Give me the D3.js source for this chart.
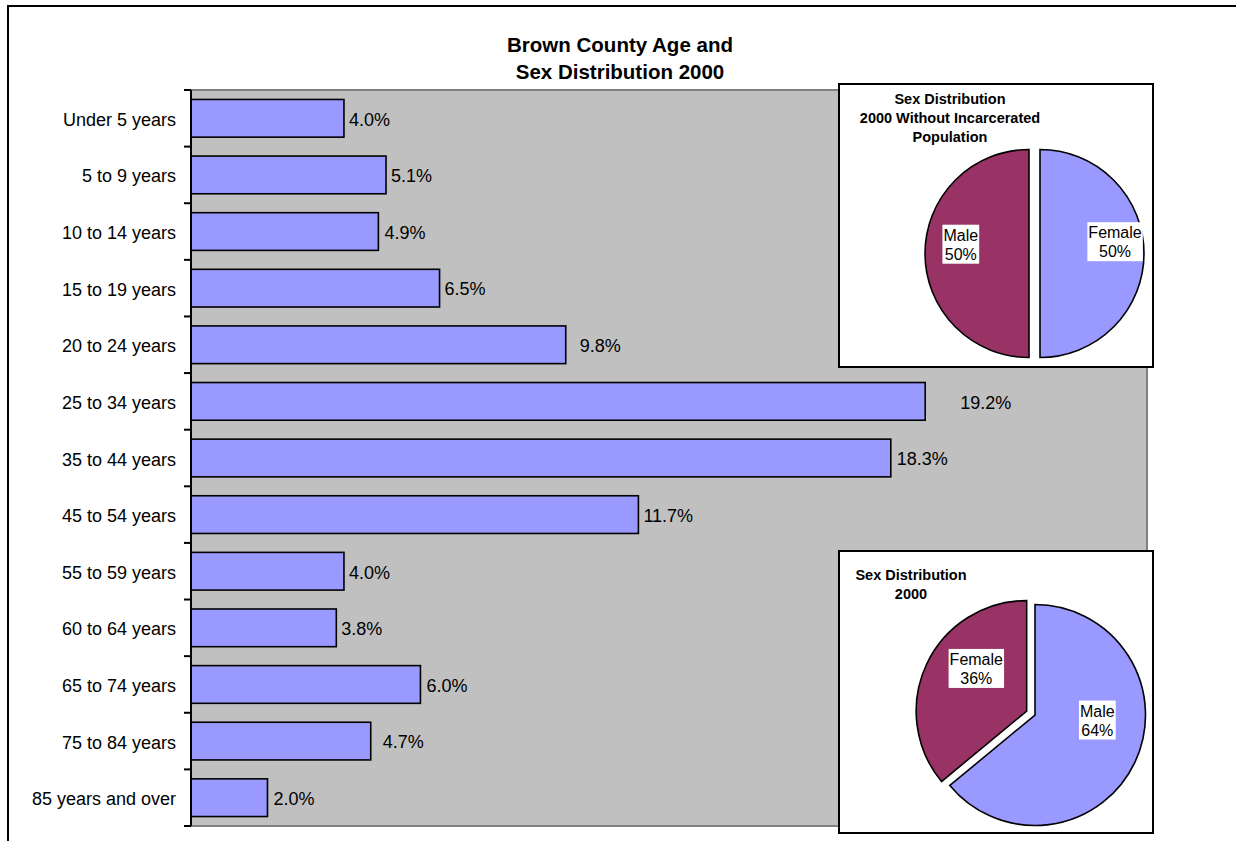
<!DOCTYPE html>
<html>
<head>
<meta charset="utf-8">
<script src="https://cdn.jsdelivr.net/npm/d3@7"></script>
<style>
  html, body { margin: 0; padding: 0; background: #fff; overflow: hidden; }
  svg { display: block; font-family: "Liberation Sans", Arial, sans-serif; }
</style>
</head>
<body>
<svg id="chart" width="1236" height="841"></svg>
<script>
// Age groups and share of total population (%)
const categories = [
  "Under 5 years", "5 to 9 years", "10 to 14 years", "15 to 19 years",
  "20 to 24 years", "25 to 34 years", "35 to 44 years", "45 to 54 years",
  "55 to 59 years", "60 to 64 years", "65 to 74 years", "75 to 84 years",
  "85 years and over"
];
const agePct = [4.0, 5.1, 4.9, 6.5, 9.8, 19.2, 18.3, 11.7, 4.0, 3.8, 6.0, 4.7, 2.0];

// Sex split without incarcerated population
const pie1Labels = ["Female", "Male"];
const pie1Values = [50, 50];

// Sex split, full population
const pie2Labels = ["Male", "Female"];
const pie2Values = [64, 36];

const titleLines = ["Brown County Age and", "Sex Distribution 2000"];
const pie1Title = ["Sex Distribution", "2000 Without Incarcerated", "Population"];
const pie2Title = ["Sex Distribution", "2000"];

// ---- presentation settings ----
const BLUE = "#9999FF", MAROON = "#993366", PLOT_BG = "#C0C0C0";
const barLabelGap = [5, 5, 6, 5, 14, 35, 6, 5, 5, 5, 6, 12, 6];

const svg = d3.select("#chart");

// outer chart frame: only its top and left edges fall inside the view
svg.append("path")
  .attr("d", "M8,900 V6 H1300")
  .attr("fill", "none").attr("stroke", "#000").attr("stroke-width", 2);

// title
svg.append("text")
  .attr("x", 620).attr("y", 52)
  .attr("text-anchor", "middle")
  .attr("font-size", 20.5).attr("font-weight", "bold")
  .selectAll("tspan").data(titleLines).join("tspan")
  .attr("x", 620).attr("dy", (d, i) => i === 0 ? 0 : 26.5)
  .text(d => d);

// ---- bar chart ----
const plot = { left: 191, top: 90, right: 1147, bottom: 826 };

const x = d3.scaleLinear().domain([0, 25]).range([plot.left, plot.right]);
const y = d3.scaleBand().domain(categories)
  .range([plot.top, plot.bottom])
  .paddingInner(0.334).paddingOuter(0.167);

svg.append("rect")
  .attr("x", plot.left).attr("y", plot.top)
  .attr("width", plot.right - plot.left).attr("height", plot.bottom - plot.top)
  .attr("fill", PLOT_BG).attr("stroke", "#808080").attr("stroke-width", 2);

svg.append("g").selectAll("rect").data(agePct).join("rect")
  .attr("x", x(0))
  .attr("y", (d, i) => y(categories[i]))
  .attr("width", d => x(d) - x(0))
  .attr("height", y.bandwidth())
  .attr("fill", BLUE).attr("stroke", "#000").attr("stroke-width", 1.6);

svg.append("g").selectAll("text").data(agePct).join("text")
  .attr("x", (d, i) => x(d) + barLabelGap[i])
  .attr("y", (d, i) => y(categories[i]) + y.bandwidth() / 2 + 1)
  .attr("dy", "0.35em")
  .attr("font-size", 18).attr("fill", "#000")
  .text(d => d3.format(".1f")(d) + "%");

// category axis: labels at band centres, ticks on the band boundaries
const axis = svg.append("g")
  .attr("transform", `translate(${plot.left},0)`)
  .call(d3.axisLeft(y).tickSize(0).tickPadding(15));
axis.select(".domain").remove();
axis.selectAll("text")
  .attr("font-size", 18).attr("fill", "#000")
  .attr("font-family", "Liberation Sans, Arial, sans-serif")
  .attr("dy", "0.42em");

const boundaries = d3.range(categories.length + 1).map(i => plot.top + i * y.step());
svg.append("g").selectAll("line").data(boundaries).join("line")
  .attr("x1", plot.left - 7).attr("x2", plot.left)
  .attr("y1", d => d).attr("y2", d => d)
  .attr("stroke", "#000").attr("stroke-width", 2);
svg.append("line")
  .attr("x1", plot.left).attr("x2", plot.left)
  .attr("y1", plot.top).attr("y2", plot.bottom)
  .attr("stroke", "#000").attr("stroke-width", 2);

// ---- pie insets ----
function drawPie(cfg) {
  const g = svg.append("g");
  g.append("rect")
    .attr("x", cfg.box[0]).attr("y", cfg.box[1])
    .attr("width", cfg.box[2]).attr("height", cfg.box[3])
    .attr("fill", "#fff").attr("stroke", "#000").attr("stroke-width", 2);

  g.append("text")
    .attr("text-anchor", "middle")
    .attr("font-size", 14.5).attr("font-weight", "bold")
    .selectAll("tspan").data(cfg.title).join("tspan")
    .attr("x", cfg.titleX).attr("y", (d, i) => cfg.titleY + i * 19.2)
    .text(d => d);

  const pie = d3.pie().sort(null).value(d => d.value);
  const arcs = pie(cfg.labels.map((l, i) => ({ label: l, value: cfg.values[i] })));
  const arc = d3.arc().innerRadius(0).outerRadius(cfg.r);
  const labelArc = d3.arc().innerRadius(cfg.r * 0.66).outerRadius(cfg.r * 0.66);
  const colors = [BLUE, MAROON];

  const offset = (a, i) => {
    const mid = (a.startAngle + a.endAngle) / 2;
    const e = cfg.explode[i];
    return [e * Math.sin(mid), -e * Math.cos(mid)];
  };

  const slices = g.append("g").attr("transform", `translate(${cfg.cx},${cfg.cy})`);
  slices.selectAll("path").data(arcs).join("path")
    .attr("transform", (a, i) => `translate(${offset(a, i)})`)
    .attr("d", arc)
    .attr("fill", (a, i) => colors[i])
    .attr("stroke", "#000").attr("stroke-width", 1.6).attr("stroke-linejoin", "miter");

  arcs.forEach((a, i) => {
    const o = offset(a, i);
    const c = labelArc.centroid(a);
    const lx = c[0] + o[0] + cfg.nudge[i][0];
    const ly = c[1] + o[1] + cfg.nudge[i][1];
    const lg = slices.append("g").attr("transform", `translate(${lx},${ly})`);
    const bg = lg.append("rect").attr("fill", "#fff");
    const t = lg.append("text")
      .attr("text-anchor", "middle").attr("font-size", 16).attr("fill", "#000");
    t.append("tspan").attr("x", 0).attr("y", -3.5).text(a.data.label);
    t.append("tspan").attr("x", 0).attr("y", 15.5).text(d3.format("d")(a.data.value) + "%");
    const bb = t.node().getBBox();
    bg.attr("x", bb.x - 1).attr("y", -19.5)
      .attr("width", bb.width + 2).attr("height", 39);
  });
}

drawPie({
  box: [839, 84, 314, 283],
  title: pie1Title, titleX: 950, titleY: 104,
  cx: 1040, cy: 253.5, r: 104,
  labels: pie1Labels, values: pie1Values,
  explode: [0, 11],
  nudge: [[6.4, -11.8], [0.4, -9.3]]
});

drawPie({
  box: [839, 551, 314, 282],
  title: pie2Title, titleX: 911, titleY: 580,
  cx: 1035, cy: 715, r: 110.5,
  labels: pie2Labels, values: pie2Values,
  explode: [0, 9.2],
  nudge: [[-3.7, -26], [15.6, -11.6]]
});
</script>
</body>
</html>
